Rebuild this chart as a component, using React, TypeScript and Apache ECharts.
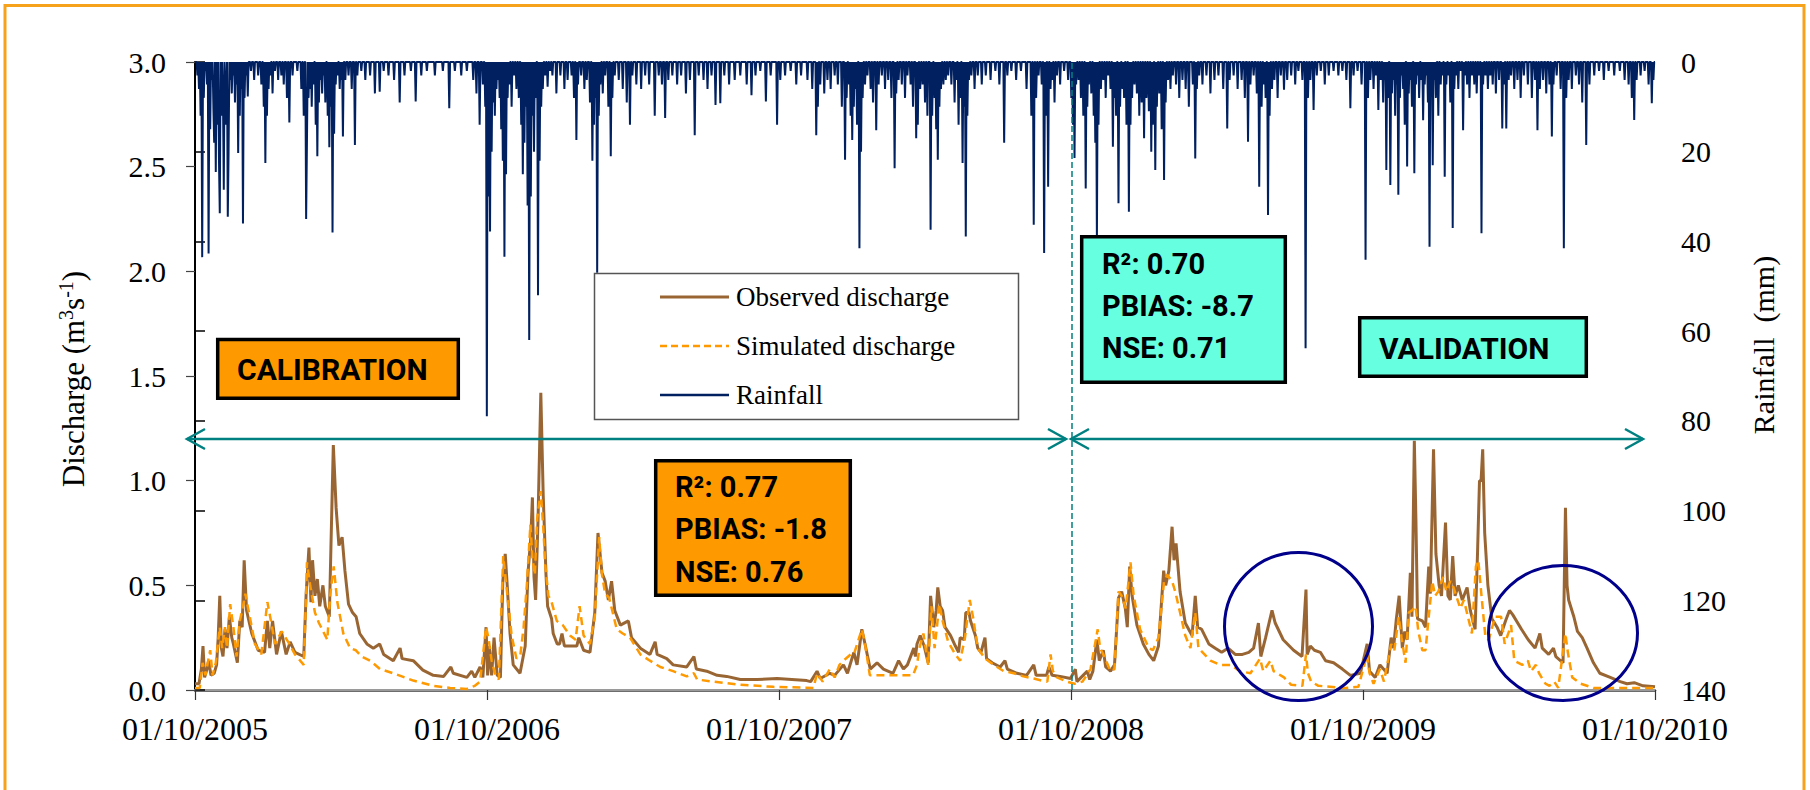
import React, { useEffect, useRef } from "react";
import * as echarts from "echarts";

// x values are days since 01/10/2005
const xTickLabels = ["01/10/2005", "01/10/2006", "01/10/2007", "01/10/2008", "01/10/2009", "01/10/2010"];
const TOTAL_DAYS = 1826;
const SPLIT_DAY = 1096; // 01/10/2008

const observedDischarge: [number, number][] = [
[0,0.03],[5,0.03],[8,0.1],[10,0.21],[12,0.06],[15,0.1],[17,0.14],[20,0.07],[24,0.08],[27,0.12],[29,0.25],[31,0.45],[33,0.2],[35,0.16],[37.5,0.29],[40,0.2],[43,0.35],[46,0.25],[48,0.22],[53,0.13],[56,0.33],[59,0.3],[61.5,0.62],[64.5,0.38],[68,0.32],[71,0.27],[79,0.19],[87,0.18],[90.5,0.33],[93.5,0.2],[97,0.33],[102,0.17],[108,0.28],[114,0.17],[119,0.23],[125,0.18],[136,0.16],[139,0.46],[142.5,0.68],[145,0.42],[147,0.62],[150,0.45],[153,0.53],[156,0.4],[160,0.5],[163,0.4],[168,0.35],[170,0.68],[173,1.17],[176.5,0.87],[180,0.69],[184,0.73],[187.5,0.57],[192,0.41],[197,0.37],[201.5,0.35],[206,0.27],[215,0.22],[223,0.2],[231,0.22],[236,0.17],[248,0.14],[256.5,0.2],[259,0.15],[273,0.14],[285,0.095],[298,0.07],[311,0.065],[320,0.11],[323,0.08],[340,0.06],[346,0.09],[350,0.06],[356.5,0.11],[360,0.06],[364,0.3],[366,0.07],[368,0.21],[371,0.07],[374,0.25],[378,0.07],[382,0.06],[385,0.52],[388,0.65],[390.5,0.5],[394,0.27],[398,0.12],[406.5,0.08],[413,0.21],[416.5,0.56],[420,0.73],[422,0.92],[424,0.54],[426,0.43],[429,0.81],[432.5,1.42],[435.5,0.93],[439,0.55],[441,0.4],[446,0.34],[448,0.27],[453,0.22],[456,0.22],[459,0.27],[462,0.21],[477.5,0.21],[480,0.25],[486,0.19],[494,0.18],[500,0.37],[504,0.75],[509,0.56],[513,0.52],[517,0.43],[521,0.52],[525,0.38],[532,0.31],[542,0.33],[546,0.25],[557,0.2],[569,0.17],[575.5,0.23],[578,0.17],[590,0.15],[598,0.12],[615,0.11],[624,0.16],[627,0.1],[640,0.09],[653,0.07],[665,0.065],[682,0.05],[703,0.05],[728,0.055],[765,0.045],[770,0.04],[778,0.09],[782,0.055],[794,0.08],[800,0.07],[811,0.12],[816,0.08],[824,0.18],[828,0.12],[834,0.29],[838,0.22],[844.5,0.1],[853,0.13],[861,0.1],[873,0.08],[880,0.14],[886,0.1],[891,0.12],[899,0.2],[901,0.16],[903,0.22],[907,0.26],[912,0.21],[917,0.13],[920,0.45],[924,0.3],[927,0.38],[929,0.49],[932,0.4],[935,0.38],[938,0.3],[945,0.26],[951,0.21],[955,0.18],[957,0.25],[962,0.24],[964,0.37],[968,0.37],[970,0.33],[976,0.26],[979,0.2],[983,0.18],[988,0.25],[990,0.15],[997,0.13],[1007,0.11],[1013,0.14],[1016,0.1],[1028,0.08],[1040,0.07],[1049,0.12],[1052,0.07],[1065,0.07],[1068,0.11],[1072,0.07],[1082,0.065],[1095,0.055],[1101,0.1],[1103,0.04],[1116,0.09],[1119,0.05],[1123,0.09],[1128,0.24],[1131,0.14],[1136,0.19],[1139,0.11],[1145,0.09],[1150,0.12],[1155,0.44],[1159,0.47],[1163.5,0.39],[1166,0.3],[1169,0.59],[1172,0.45],[1178,0.31],[1186,0.22],[1193,0.17],[1199,0.14],[1205,0.21],[1211.5,0.57],[1214,0.5],[1218,0.57],[1222,0.78],[1224.5,0.62],[1227,0.7],[1232,0.47],[1238.5,0.32],[1247,0.26],[1251,0.45],[1254,0.3],[1259,0.29],[1268,0.22],[1276,0.2],[1284,0.18],[1292,0.2],[1301,0.17],[1310,0.17],[1318,0.18],[1324,0.2],[1330,0.32],[1333,0.16],[1339,0.25],[1347,0.38],[1351,0.32],[1361,0.24],[1374,0.19],[1384.5,0.16],[1389.5,0.48],[1391,0.17],[1395,0.21],[1400,0.19],[1407.5,0.18],[1414,0.14],[1424,0.13],[1435,0.1],[1445,0.07],[1457.5,0.08],[1466,0.22],[1469,0.09],[1476,0.06],[1482,0.12],[1491,0.08],[1496,0.25],[1499,0.2],[1502.5,0.34],[1506,0.45],[1510,0.2],[1513,0.28],[1516,0.24],[1520,0.56],[1522,0.35],[1525,1.19],[1527,0.81],[1529,0.34],[1535,0.33],[1539,0.3],[1543,0.59],[1545,0.46],[1549,1.15],[1552,0.65],[1556,0.5],[1559,0.45],[1564,0.8],[1567,0.45],[1570,0.43],[1573,0.64],[1576,0.45],[1580,0.5],[1585,0.43],[1591,0.49],[1595,0.38],[1601,0.29],[1604,0.65],[1606.5,1.0],[1608.5,1.0],[1610.5,1.15],[1613,0.75],[1617,0.5],[1622,0.34],[1628.5,0.3],[1633,0.26],[1639,0.33],[1644,0.38],[1648,0.36],[1659,0.29],[1667.5,0.24],[1676,0.2],[1682,0.27],[1685,0.2],[1693,0.17],[1699,0.2],[1702,0.16],[1711,0.13],[1714,0.87],[1716,0.5],[1718,0.43],[1724.5,0.35],[1729,0.28],[1735,0.25],[1741,0.2],[1749,0.13],[1757,0.08],[1770,0.06],[1782.5,0.04],[1791,0.03],[1800,0.035],[1811,0.02],[1826,0.015]
];

const simulatedDischarge: [number, number][] = [
[0,0.01],[6,0.01],[9.5,0.13],[13,0.07],[19,0.19],[22,0.07],[26,0.13],[31,0.3],[34,0.2],[37.5,0.3],[40,0.2],[44,0.41],[48,0.3],[52,0.16],[56,0.33],[59,0.38],[63,0.46],[67,0.38],[75,0.22],[83,0.17],[90.5,0.42],[95,0.33],[100,0.22],[108.5,0.28],[118,0.22],[125,0.17],[136,0.12],[139,0.45],[140,0.61],[144,0.5],[150,0.37],[155,0.32],[165.5,0.24],[169,0.45],[173.5,0.59],[178,0.42],[185.5,0.27],[194,0.2],[201,0.19],[208.5,0.16],[219,0.14],[231.5,0.1],[248,0.08],[273,0.045],[298,0.02],[319,0.01],[340,0.005],[350,0.02],[356.5,0.04],[364,0.3],[367,0.25],[371,0.14],[375,0.08],[380,0.05],[385.5,0.64],[388,0.55],[396,0.26],[402,0.15],[407,0.17],[411,0.3],[415,0.5],[419.5,0.79],[422,0.63],[425,0.55],[428,0.82],[432.5,0.95],[436,0.75],[438,0.6],[442,0.45],[446,0.42],[452.5,0.33],[460,0.31],[469,0.26],[476,0.24],[481,0.4],[486,0.26],[494,0.22],[500,0.35],[505.5,0.73],[509,0.55],[513,0.46],[518,0.44],[527.5,0.29],[535,0.27],[544,0.25],[557,0.17],[569,0.14],[582,0.11],[598,0.09],[615,0.065],[624,0.08],[628,0.05],[648.5,0.04],[682,0.025],[723.5,0.015],[773.5,0.01],[778,0.08],[785,0.04],[794,0.1],[800,0.06],[806,0.12],[811,0.14],[820,0.17],[824,0.17],[834,0.29],[838,0.22],[844,0.07],[860,0.07],[890,0.07],[898,0.07],[903,0.12],[906,0.2],[911,0.27],[917,0.12],[921,0.4],[925,0.2],[931,0.41],[935,0.33],[942,0.23],[951,0.17],[957,0.14],[963,0.25],[969,0.43],[973,0.35],[979,0.2],[988,0.15],[999,0.12],[1011.5,0.09],[1024,0.08],[1036,0.065],[1049,0.055],[1059,0.045],[1066,0.04],[1070,0.17],[1073,0.09],[1078,0.06],[1090.5,0.04],[1100,0.03],[1110,0.04],[1120,0.1],[1129,0.29],[1132,0.2],[1136,0.17],[1145,0.09],[1150,0.1],[1155,0.47],[1159,0.45],[1164,0.39],[1170,0.61],[1174,0.45],[1182,0.29],[1193,0.2],[1198,0.19],[1205,0.25],[1212,0.52],[1216,0.55],[1222,0.52],[1226,0.47],[1232,0.37],[1238.5,0.26],[1245,0.2],[1251,0.37],[1255,0.2],[1270,0.14],[1282,0.12],[1295,0.12],[1307,0.09],[1320,0.08],[1332,0.15],[1336,0.09],[1345,0.14],[1349,0.09],[1362,0.06],[1371,0.025],[1385,0.02],[1389.5,0.17],[1392,0.08],[1396,0.04],[1405,0.02],[1438.5,0.01],[1455,0.015],[1466,0.17],[1469,0.08],[1474,0.03],[1482,0.1],[1487,0.04],[1496,0.22],[1500,0.19],[1505.5,0.35],[1509,0.25],[1514,0.13],[1518,0.37],[1522,0.38],[1526.5,0.4],[1530,0.28],[1535,0.19],[1539,0.19],[1543,0.35],[1547.5,0.52],[1551,0.45],[1555,0.47],[1561,0.54],[1565,0.47],[1570,0.52],[1574,0.49],[1582.5,0.39],[1587,0.43],[1592,0.35],[1597,0.27],[1602,0.59],[1605,0.62],[1609,0.45],[1614,0.25],[1618,0.24],[1626,0.35],[1633.5,0.35],[1638,0.22],[1646,0.31],[1650,0.14],[1660,0.12],[1667,0.14],[1671,0.09],[1677,0.12],[1681,0.08],[1689,0.03],[1694,0.02],[1700,0.04],[1705,0.01],[1714,0.27],[1717,0.18],[1722.5,0.06],[1733,0.03],[1749,0.01],[1826,0.01]
];

// rainy days only: [day, mm]
const rainfall: [number, number][] = [
[3,3],[5,6],[7,12],[9,43.5],[11,8],[13,2],[15,5],[17,42.7],[19,15],[21,4],[23,10],[24,18],[26,24.5],[28,14],[30,22],[31,33.7],[33,12],[35,8],[36,28.5],[38,14],[39,6],[41,34.5],[42,20],[44,4],[46,7],[48,3],[50,9],[52,5],[54,20.3],[56,12],[58,6],[60,36],[62,8],[64,3],[66,7.7],[70,2],[74,4],[79,3],[83,5],[86,10],[88,22.5],[90,12],[92,6],[94,3],[97,7],[100,2],[104,4],[108,3],[111,5],[115,8],[118,13.5],[122,3],[128,2],[133,6],[136,12],[139,35],[140,18],[142,8],[144,6],[146,10],[148,5],[151,14],[153,21],[155,9],[157,4],[159,7],[161,3],[163,9],[166,12],[168,19],[170,10],[172,38],[174,16],[176,5],[178,3],[181,6],[183,4],[185,16.6],[188,4],[192,3],[196,6],[200,18.5],[203,3],[208,2],[213,4],[219,3],[225,7],[231,6.6],[236,2],[242,3],[249,4],[256,9],[262,3],[270,2],[276,8.8],[283,3],[290,2],[300,3],[310,2],[318,10.3],[325,2],[333,3],[340,2],[348,4],[352,7],[356,14],[360,5],[363,10],[365,79],[367,30],[369,37.8],[371,20],[373,9],[375,12],[377,6],[379,4],[381,8],[383,15],[385,22],[387,43.4],[389,25],[391,8],[393,5],[396,10],[399,3],[402,6],[405,8],[408,14],[410,25],[412,18],[414,10],[416,32],[418,62],[420,30],[422,12],[424,20],[426,8],[429,52],[431,22],[433,10],[435,6],[438,3],[441,5.5],[444,2],[447,3],[452,7],[457,3],[462,6],[466,4],[471,3],[474,8],[477,17.4],[479,5],[483,3],[487,6],[490,4],[494,9],[497,22],[499,14],[501,8],[503,47],[505,12],[507,5],[510,7],[513,3],[517,10],[520,21],[522,8],[525,3],[530,4],[535,6],[540,9],[544,14],[547,3],[552,5],[558,6],[563,3],[568,5],[575,12],[580,3],[584,5],[588,12.5],[592,4],[597,3],[603,5],[608,3],[614,7],[619,4],[625,16.3],[630,3],[636,4],[641,6],[646,3],[651,9.6],[657,9.2],[662,3],[668,5],[675,4],[682,3],[690,5],[696,7.4],[701,3],[707,2],[714,8.8],[720,3],[728,14],[732,4],[738,3],[745,2],[752,5],[758,3],[766,4],[772,6],[777,16.3],[779,10],[782,5],[787,7],[791,4],[795,6],[800,3],[804,5],[809,10],[813,21.8],[815,8],[818,5],[820,12],[822,17.4],[824,10],[826,6],[828,14],[831,41.5],[833,20],[835,8],[838,5],[841,3],[845,6],[848,9],[852,15.2],[855,5],[859,3],[863,6],[867,4],[871,8],[875,23.7],[877,7],[880,4],[884,5],[888,8],[891,3],[895,5],[898,10],[902,17],[904,14],[907,6],[910,5],[913,9],[916,12],[920,37.4],[922,12],[925,8],[927,15],[929,21.8],[931,10],[933,6],[936,5],[939,4],[942,3],[946,5],[950,9],[952,4],[955,14],[957,8],[960,22.5],[962,10],[964,38.9],[966,12],[968,4],[971,3],[975,6],[979,3],[984,5],[989,3],[995,4],[1001,2],[1006,5],[1012,18],[1016,3],[1021,2],[1027,4],[1033,2],[1040,6],[1046,12],[1049,36.3],[1052,8],[1055,3],[1059,5],[1062,42.6],[1064,12],[1067,27.8],[1070,6],[1072,4],[1075,9],[1078,3],[1082,5],[1087,2],[1092,4],[1096,8],[1098,14],[1100,21.4],[1102,5],[1105,4],[1108,8],[1111,12],[1114,28.2],[1116,10],[1118,5],[1121,7],[1124,12],[1126,18],[1128,40],[1130,14],[1133,6],[1136,4],[1139,8],[1142,3],[1145,6],[1148,18.9],[1150,8],[1152,12],[1155,31.5],[1157,10],[1160,6],[1162,8],[1165,14],[1168,33.4],[1170,14],[1172,8],[1175,5],[1178,7],[1181,12],[1184,9],[1187,17],[1190,8],[1193,11],[1196,20],[1198,14],[1201,24.1],[1203,10],[1206,7],[1209,15],[1212,26.3],[1214,9],[1217,4],[1220,6],[1223,3],[1227,5],[1231,8],[1235,4],[1239,6],[1243,10],[1248,5],[1251,21.5],[1253,6],[1256,3],[1260,5],[1265,3],[1270,7],[1275,4],[1280,3],[1286,6],[1291,14.8],[1294,4],[1299,3],[1304,6],[1309,4],[1313,8],[1317,17.8],[1320,5],[1324,3],[1328,7],[1331,27.8],[1334,10],[1337,5],[1339,8],[1342,34.1],[1344,12],[1347,6],[1350,4],[1354,8],[1358,3],[1362,6.2],[1366,4],[1371,3],[1376,5],[1380,2],[1385,4],[1389,63.8],[1392,8],[1395,4],[1399,10.7],[1403,3],[1408,2],[1413,5],[1418,3],[1424,2],[1430,3],[1435,2],[1440,4],[1445,10.3],[1449,3],[1454,2],[1459,5],[1464,44.1],[1467,8],[1470,4],[1474,6],[1477,3],[1480,10.7],[1483,4],[1486,9],[1488,4],[1490,24.1],[1492,8],[1495,27.4],[1497,7],[1499,4],[1501,12],[1503,5],[1505,29.6],[1507,8],[1509,3],[1511,6],[1513,14],[1516,23.3],[1518,7],[1520,4],[1522,10],[1525,24.8],[1527,5],[1529,3],[1531,8],[1534,4],[1536,13],[1538,5],[1540,3],[1542,9],[1544,41.2],[1546,6],[1548,23],[1550,4],[1552,8],[1555,12],[1558,5],[1560,3],[1563,25.6],[1565,5],[1568,3],[1570,9],[1573,37],[1575,6],[1577,3],[1580,6],[1583,2],[1586,15.2],[1588,3],[1591,5],[1594,8],[1597,3],[1600,5],[1603,7],[1606,3],[1609,38.2],[1611,5],[1614,3],[1617,6],[1620,3],[1623,5],[1627,7],[1631,4],[1635,14.8],[1637,5],[1640,14.8],[1643,4],[1646,3],[1650,6],[1654,4],[1658,8],[1662,3],[1667,5],[1672,8],[1676,4],[1679,15.2],[1682,6],[1686,4],[1690,7],[1694,5],[1697,16.6],[1699,5],[1703,3],[1708,6],[1712,41.5],[1715,8],[1718,4],[1722,6],[1727,3],[1731,5],[1735,9],[1740,18.5],[1744,5],[1750,3],[1756,2],[1762,4],[1768,2],[1775,3],[1782,2],[1788,4],[1793,5],[1797,8],[1800,12.9],[1803,4],[1808,3],[1813,2],[1818,5],[1822,9.2],[1824,4]
];

const calibrationStats = ["R\u00B2: 0.77", "PBIAS: -1.8", "NSE: 0.76"];
const validationStats = ["R\u00B2: 0.70", "PBIAS: -8.7", "NSE: 0.71"];
const seriesNames = ["Observed discharge", "Simulated discharge", "Rainfall"];

const SERIF = "'Times New Roman', 'Liberation Serif', serif";
const SANS = "Roboto, 'Open Sans', sans-serif";
const OBS_COLOR = "#996633";
const SIM_COLOR = "#FF9900";
const RAIN_COLOR = "#002060";
const TEAL = "#008080";

function buildDailyRain(): [number, number][] {
  const m = new Map<number, number>(rainfall);
  const out: [number, number][] = [];
  for (let d = 0; d <= TOTAL_DAYS; d++) out.push([d, m.get(d) ?? 0]);
  return out;
}

function textEl(text: string, x: number, y: number, size: number, family: string, weight: string, align = "left", extra: any = {}) {
  return {
    type: "text", x, y, z: 100,
    style: { text, fill: "#000", fontSize: size, fontFamily: family, fontWeight: weight,
      align, verticalAlign: "middle", textAlign: align, textVerticalAlign: "middle", ...extra },
  };
}

function arrow(x1: number, x2: number, y: number) {
  const st = { stroke: TEAL, lineWidth: 2.5, fill: "none" };
  return [
    { type: "line", z: 90, shape: { x1, y1: y, x2, y2: y }, style: st },
    { type: "polyline", z: 90, shape: { points: [[x1 + 18, y - 10], [x1, y], [x1 + 18, y + 10]] }, style: st },
    { type: "polyline", z: 90, shape: { points: [[x2 - 18, y - 10], [x2, y], [x2 - 18, y + 10]] }, style: st },
  ];
}

export default function App() {
  const ref = useRef<HTMLDivElement>(null);
  useEffect(() => {
    if (!ref.current) return;
    const chart = echarts.init(ref.current, undefined, { renderer: "svg" });
    const graphic: any[] = [
      { type: "rect", z: 100, shape: { x: 5, y: 5.5, width: 1799, height: 810 }, style: { fill: "none", stroke: "#F7A21B", lineWidth: 3 } },
      {
        type: "text", x: 73, y: 379, rotation: Math.PI / 2, z: 100,
        style: {
          text: "{a|Discharge (m}{s|3}{a|s}{s|-1}{a|)}", align: "center", verticalAlign: "middle",
          textAlign: "center", textVerticalAlign: "middle",
          rich: {
            a: { fontSize: 31, fontFamily: SERIF, fill: "#000", lineHeight: 35 },
            s: { fontSize: 20, fontFamily: SERIF, fill: "#000", lineHeight: 35, verticalAlign: "top", padding: [0, 0, 14, 0] },
          },
        },
      },
      {
        type: "text", x: 1763, y: 345, rotation: Math.PI / 2, z: 100,
        style: { text: "Rainfall  (mm)", fontSize: 30, fontFamily: SERIF, fill: "#000", align: "center", verticalAlign: "middle", textAlign: "center", textVerticalAlign: "middle" },
      },
      // legend
      { type: "rect", z: 100, shape: { x: 594.5, y: 273.5, width: 424, height: 146 }, style: { fill: "#fff", stroke: "#555", lineWidth: 1.5 } },
      { type: "line", z: 101, shape: { x1: 660, y1: 297, x2: 729, y2: 297 }, style: { stroke: OBS_COLOR, lineWidth: 3 } },
      { type: "line", z: 101, shape: { x1: 660, y1: 346, x2: 729, y2: 346 }, style: { stroke: SIM_COLOR, lineWidth: 2.5, lineDash: [7, 4] } },
      { type: "line", z: 101, shape: { x1: 660, y1: 395, x2: 729, y2: 395 }, style: { stroke: RAIN_COLOR, lineWidth: 2.5 } },
      textEl(seriesNames[0], 736, 297, 27, SERIF, "normal"),
      textEl(seriesNames[1], 736, 346, 27, SERIF, "normal"),
      textEl(seriesNames[2], 736, 395, 27, SERIF, "normal"),
      // CALIBRATION label
      { type: "rect", z: 100, shape: { x: 217.7, y: 339.5, width: 240.6, height: 58.8 }, style: { fill: "#FF9900", stroke: "#000", lineWidth: 3.5 } },
      textEl("CALIBRATION", 237, 369, 30, SANS, "bold"),
      // calibration stats
      { type: "rect", z: 100, shape: { x: 655.7, y: 460.7, width: 194.6, height: 134.6 }, style: { fill: "#FF9900", stroke: "#000", lineWidth: 3.5 } },
      textEl(calibrationStats[0], 675, 487, 29, SANS, "bold"),
      textEl(calibrationStats[1], 675, 529, 29, SANS, "bold"),
      textEl(calibrationStats[2], 675, 572, 29, SANS, "bold"),
      // validation stats
      { type: "rect", z: 100, shape: { x: 1081.7, y: 236.7, width: 203.6, height: 145.6 }, style: { fill: "#66FFDF", stroke: "#000", lineWidth: 3.5 } },
      textEl(validationStats[0], 1102, 264, 29, SANS, "bold"),
      textEl(validationStats[1], 1102, 306, 29, SANS, "bold"),
      textEl(validationStats[2], 1102, 348, 29, SANS, "bold"),
      // VALIDATION label
      { type: "rect", z: 100, shape: { x: 1359.7, y: 317.7, width: 226.6, height: 58.6 }, style: { fill: "#66FFDF", stroke: "#000", lineWidth: 3.5 } },
      textEl("VALIDATION", 1379, 348, 30, SANS, "bold"),
      ...arrow(187, 1066, 439),
      ...arrow(1071, 1643, 439),
      { type: "ellipse", z: 95, shape: { cx: 1298.5, cy: 626.5, rx: 74, ry: 74 }, style: { fill: "none", stroke: "#00008B", lineWidth: 3 } },
      { type: "ellipse", z: 95, shape: { cx: 1563, cy: 633, rx: 74.5, ry: 67.5 }, style: { fill: "none", stroke: "#00008B", lineWidth: 3 } },
    ];

    chart.setOption({
      animation: false,
      backgroundColor: "#fff",
      grid: { left: 195, right: 155, top: 62, bottom: 100, containLabel: false },
      legend: { show: false },
      xAxis: [
        {
          type: "value", min: 0, max: TOTAL_DAYS, interval: 365.2, position: "bottom",
          axisLine: { show: true, onZero: false, lineStyle: { color: "#3d3d3d", width: 2.5 } },
          axisTick: { show: true, length: 10, inside: false, lineStyle: { color: "#333", width: 1.2 } },
          splitLine: { show: false },
          axisLabel: {
            margin: 23, fontSize: 32, fontFamily: SERIF, color: "#000",
            formatter: (v: number) => xTickLabels[Math.round(v / 365.2)] ?? "",
          },
        },
        {
          type: "value", min: 0, max: TOTAL_DAYS, position: "top",
          axisLine: { show: true, lineStyle: { color: "#9a9a9a", width: 2 } },
          axisTick: { show: false }, axisLabel: { show: false }, splitLine: { show: false },
        },
      ],
      yAxis: [
        {
          type: "value", min: 0, max: 3, interval: 0.5, position: "left",
          axisLine: { show: true, lineStyle: { color: "#444", width: 1.5 } },
          axisTick: { show: true, length: 9, lineStyle: { color: "#444", width: 1.2 } },
          splitLine: { show: false },
          axisLabel: { margin: 29, fontSize: 30, fontFamily: SERIF, color: "#000", formatter: (v: number) => v.toFixed(1) },
        },
        {
          type: "value", min: 0, max: 140, interval: 20, position: "right", inverse: true,
          axisLine: { show: true, lineStyle: { color: "#000", width: 2 } },
          axisTick: { show: true, length: 10, lineStyle: { color: "#000", width: 1.5 } },
          splitLine: { show: false },
          axisLabel: { margin: 26, fontSize: 30, fontFamily: SERIF, color: "#000" },
        },
      ],
      series: [
        {
          name: seriesNames[2], type: "line", xAxisIndex: 0, yAxisIndex: 1, data: buildDailyRain(),
          showSymbol: false, symbol: "none", lineStyle: { color: RAIN_COLOR, width: 2 }, z: 2,
        },
        {
          name: seriesNames[0], type: "line", xAxisIndex: 0, yAxisIndex: 0, data: observedDischarge,
          showSymbol: false, symbol: "none", lineStyle: { color: OBS_COLOR, width: 3 }, z: 3,
          markLine: {
            silent: true, symbol: ["none", "none"], label: { show: false },
            lineStyle: { color: TEAL, width: 1.5, type: [6, 3] },
            data: [{ xAxis: SPLIT_DAY }],
          },
        },
        {
          name: seriesNames[1], type: "line", xAxisIndex: 0, yAxisIndex: 0, data: simulatedDischarge,
          showSymbol: false, symbol: "none", lineStyle: { color: SIM_COLOR, width: 2.5, type: [8, 5] }, z: 4,
        },
      ],
      graphic,
    });
    return () => chart.dispose();
  }, []);
  return (
    <div ref={ref} style={{ position: "absolute", left: 0, top: 0, width: 1810, height: 790, background: "#fff" }} />
  );
}
